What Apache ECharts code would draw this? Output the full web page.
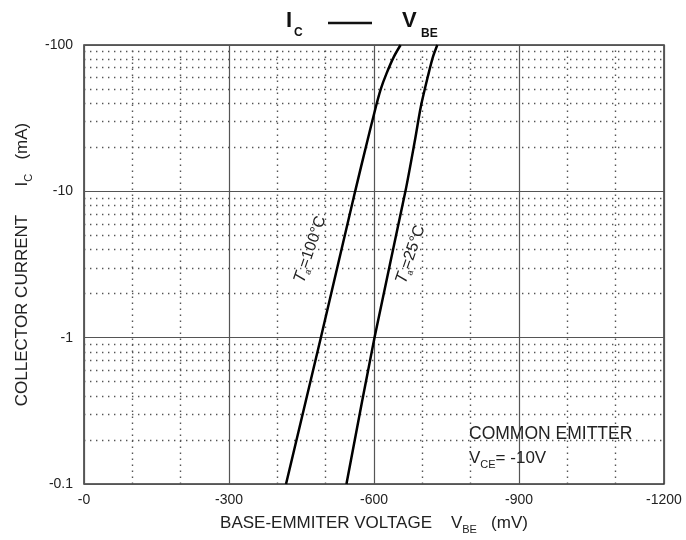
<!DOCTYPE html>
<html>
<head>
<meta charset="utf-8">
<script src="https://cdn.jsdelivr.net/npm/echarts@6/dist/echarts.min.js"></script>
<style>
  html, body { margin: 0; padding: 0; background: #fff; }
  #chart { width: 686px; height: 540px; }
</style>
</head>
<body>
<div id="chart"></div>
<script>
// magnitudes: V_BE in mV, I_C in mA (both plotted as negative values)
var vbe100 = [418, 490, 561, 587, 604, 614, 626, 641, 655];
var ic100 = [0.1, 1, 10, 22.6, 38, 50, 64, 83, 100];
var vbe25 = [543, 601, 665, 685, 697, 713, 722, 731];
var ic25 = [0.1, 1, 10, 22.6, 38, 64, 83, 100];

var xMinor = [100, 200, 400, 500, 700, 800, 1000, 1100];
var yMinor = [0.2, 0.3, 0.4, 0.5, 0.6, 0.7, 0.8, 0.9,
  2, 3, 4, 5, 6, 7, 8, 9, 20, 30, 40, 50, 60, 70, 80, 90];

// label anchors (data coords)
var label100 = [468, 4.0];
var label25 = [676, 3.7];

var FONT = 'Liberation Sans, Arial, sans-serif';

function pairs(xs, ys) {
  var out = [];
  for (var i = 0; i < xs.length; i++) out.push([xs[i], ys[i]]);
  return out;
}

var minorLines = [];
xMinor.forEach(function (v) { minorLines.push({ xAxis: v }); });
yMinor.forEach(function (v) { minorLines.push({ yAxis: v }); });

var subRich = {
  t: { fontSize: 17, color: '#222', fontFamily: FONT, lineHeight: 20, verticalAlign: 'middle' },
  s: { fontSize: 11, color: '#222', fontFamily: FONT, lineHeight: 12, padding: [11, 0, 0, 0], verticalAlign: 'top' }
};

var chart = echarts.init(document.getElementById('chart'));

var option = {
  backgroundColor: '#fff',
  animation: false,
  grid: {
    left: 84, right: 22, top: 45, bottom: 52,
    show: true,
    borderColor: '#333',
    borderWidth: 1.5
  },
  xAxis: {
    type: 'value',
    min: 0,
    max: 1200,
    interval: 300,
    name: '{t|BASE-EMMITER VOLTAGE    V}{s|BE}{t|   (mV)}',
    nameLocation: 'middle',
    nameGap: 29,
    nameTextStyle: { rich: subRich },
    axisLine: { show: false },
    axisTick: { show: false },
    axisLabel: {
      margin: 9,
      fontSize: 14,
      color: '#222',
      fontFamily: FONT,
      formatter: function (v) { return '-' + v; }
    },
    splitLine: { show: true, lineStyle: { color: '#555', width: 1.2 } }
  },
  yAxis: {
    type: 'log',
    logBase: 10,
    min: 0.1,
    max: 100,
    name: '{t|COLLECTOR CURRENT      I}{s|C}{t|   (mA)}',
    nameLocation: 'middle',
    nameGap: 52,
    nameTextStyle: { rich: subRich },
    axisLine: { show: false },
    axisTick: { show: false },
    axisLabel: {
      margin: 11,
      fontSize: 14,
      color: '#222',
      fontFamily: FONT,
      formatter: function (v) { return '-' + v; }
    },
    splitLine: { show: true, lineStyle: { color: '#555', width: 1.2 } }
  },
  series: [{
    name: 'Ta=100',
    type: 'line',
    data: pairs(vbe100, ic100),
    smooth: 0.3,
    showSymbol: false,
    lineStyle: { color: '#000', width: 2.5 },
    z: 5,
    markLine: {
      silent: true,
      symbol: 'none',
      label: { show: false },
      lineStyle: { color: '#555', width: 1.4, type: [1.4, 4.6] },
      data: minorLines,
      z: 1
    }
  }, {
    name: 'Ta=25',
    type: 'line',
    data: pairs(vbe25, ic25),
    smooth: 0.3,
    showSymbol: false,
    lineStyle: { color: '#000', width: 2.5 },
    z: 5
  }]
};

chart.setOption(option);

var p100 = chart.convertToPixel({ gridIndex: 0 }, label100);
var p25 = chart.convertToPixel({ gridIndex: 0 }, label25);

var taRich = {
  i: { fontSize: 17, fontStyle: 'italic', fill: '#222', fontFamily: FONT, lineHeight: 20, verticalAlign: 'middle' },
  t: { fontSize: 16, fill: '#222', fontFamily: FONT, lineHeight: 20, verticalAlign: 'middle' },
  s: { fontSize: 9, fill: '#222', fontFamily: FONT, lineHeight: 10, padding: [11, 0, 0, 0], verticalAlign: 'top' }
};
var noteRich = {
  t: { fontSize: 17, fill: '#222', fontFamily: FONT, lineHeight: 20, verticalAlign: 'middle' },
  s: { fontSize: 11, fill: '#222', fontFamily: FONT, lineHeight: 12, padding: [11, 0, 0, 0], verticalAlign: 'top' }
};
var titleMain = { fontSize: 22, fontWeight: 'bold', fill: '#111', fontFamily: FONT, verticalAlign: 'middle' };
var titleSub = { fontSize: 12, fontWeight: 'bold', fill: '#111', fontFamily: FONT, verticalAlign: 'middle' };

chart.setOption({
  graphic: [{
    type: 'text', x: 286, y: 21,
    style: Object.assign({ text: 'I' }, titleMain)
  }, {
    type: 'text', x: 294, y: 33,
    style: Object.assign({ text: 'C' }, titleSub)
  }, {
    type: 'line',
    shape: { x1: 328, y1: 23, x2: 372, y2: 23 },
    style: { stroke: '#111', lineWidth: 2.5 }
  }, {
    type: 'text', x: 402, y: 21,
    style: Object.assign({ text: 'V' }, titleMain)
  }, {
    type: 'text', x: 421, y: 34,
    style: Object.assign({ text: 'BE' }, titleSub)
  }, {
    type: 'text',
    x: p100[0], y: p100[1],
    rotation: 71 * Math.PI / 180,
    style: {
      text: '{i|T}{s|a}{t|=100°C}',
      rich: taRich,
      align: 'center',
      verticalAlign: 'middle'
    }
  }, {
    type: 'text',
    x: p25[0], y: p25[1],
    rotation: 71 * Math.PI / 180,
    style: {
      text: '{i|T}{s|a}{t|=25°C}',
      rich: taRich,
      align: 'center',
      verticalAlign: 'middle'
    }
  }, {
    type: 'text',
    x: 469, y: 434,
    style: {
      text: 'COMMON EMITTER',
      fontSize: 17.5,
      fill: '#222',
      fontFamily: FONT,
      verticalAlign: 'middle'
    }
  }, {
    type: 'text',
    x: 469, y: 458,
    style: {
      text: '{t|V}{s|CE}{t|= -10V}',
      rich: noteRich,
      verticalAlign: 'middle'
    }
  }]
});
</script>
</body>
</html>
